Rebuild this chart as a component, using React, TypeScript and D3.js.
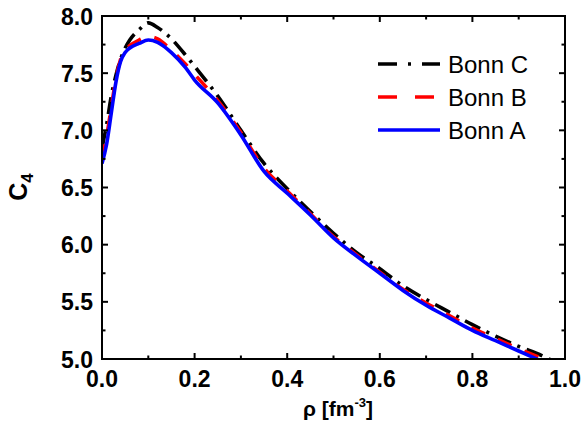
import React from "react";
import * as d3 from "d3";

const rhoA = [0, 0.01, 0.02, 0.03, 0.04, 0.05, 0.06, 0.08, 0.1, 0.12, 0.15, 0.18, 0.2, 0.25, 0.3, 0.35, 0.4, 0.45, 0.5, 0.55, 0.6, 0.65, 0.7, 0.75, 0.8, 0.85, 0.9, 0.95];
const bonnA = [6.71, 6.88, 7.15, 7.42, 7.6, 7.68, 7.72, 7.76, 7.79, 7.77, 7.68, 7.55, 7.44, 7.24, 6.96, 6.64, 6.45, 6.26, 6.06, 5.9, 5.75, 5.6, 5.47, 5.36, 5.25, 5.16, 5.07, 4.98];

const rhoB = [0, 0.01, 0.02, 0.03, 0.04, 0.05, 0.06, 0.08, 0.1, 0.12, 0.15, 0.18, 0.2, 0.25, 0.3, 0.35, 0.4, 0.45, 0.5, 0.55, 0.6, 0.65, 0.7, 0.75, 0.8, 0.85, 0.9, 0.96];
const bonnB = [6.75, 6.95, 7.2, 7.45, 7.62, 7.7, 7.74, 7.79, 7.82, 7.8, 7.7, 7.58, 7.49, 7.26, 6.98, 6.67, 6.47, 6.27, 6.07, 5.91, 5.76, 5.61, 5.49, 5.38, 5.27, 5.18, 5.09, 4.99];

const rhoC = [0, 0.01, 0.02, 0.03, 0.04, 0.05, 0.06, 0.08, 0.1, 0.12, 0.15, 0.18, 0.2, 0.25, 0.3, 0.35, 0.4, 0.45, 0.5, 0.55, 0.6, 0.65, 0.7, 0.75, 0.8, 0.85, 0.9, 0.95, 0.975];
const bonnC = [6.85, 7.05, 7.3, 7.48, 7.62, 7.72, 7.79, 7.88, 7.94, 7.9, 7.8, 7.66, 7.56, 7.3, 7.0, 6.71, 6.49, 6.29, 6.1, 5.93, 5.79, 5.64, 5.52, 5.41, 5.3, 5.2, 5.11, 5.03, 4.98];

const xTicks = [0, 0.2, 0.4, 0.6, 0.8, 1.0];
const xMinor = [0.1, 0.3, 0.5, 0.7, 0.9];
const yTicks = [5.0, 5.5, 6.0, 6.5, 7.0, 7.5, 8.0];
const yMinor = [5.25, 5.75, 6.25, 6.75, 7.25, 7.75];

const legendNames = ["Bonn C", "Bonn B", "Bonn A"];

export default function App() {
  const W = 585, H = 427;
  const L = 102, R = 565, T = 16, B = 359;
  const x = d3.scaleLinear().domain([0, 1]).range([L, R]);
  const y = d3.scaleLinear().domain([5, 8]).range([B, T]);
  const line = d3.line<[number, number]>().x(d => x(d[0])).y(d => y(d[1])).curve(d3.curveMonotoneX);
  const zip = (a: number[], b: number[]) => a.map((v, i) => [v, b[i]] as [number, number]);

  const series = [
    { name: "Bonn C", d: zip(rhoC, bonnC), color: "#000", dash: "17,7,3,7" },
    { name: "Bonn B", d: zip(rhoB, bonnB), color: "#ff0000", dash: "15,14" },
    { name: "Bonn A", d: zip(rhoA, bonnA), color: "#0000ff", dash: "" },
  ];
  const font = "'Liberation Sans', Arial, sans-serif";

  return (
    <svg width={W} height={H} style={{ position: "absolute", left: 0, top: 0 }}>
      <rect width={W} height={H} fill="#fff" />
      <defs>
        <clipPath id="plot">
          <rect x={L} y={T} width={R - L} height={B - T} />
        </clipPath>
      </defs>
      <g clipPath="url(#plot)">
        {series.map(s => (
          <path key={s.name} d={line(s.d) || ""} fill="none" stroke={s.color} strokeWidth={3.6}
            strokeDasharray={s.dash || undefined} strokeLinejoin="round" />
        ))}
      </g>
      <rect x={L} y={T} width={R - L} height={B - T} fill="none" stroke="#000" strokeWidth={2} />
      {xTicks.map(t => (
        <g key={"xt" + t}>
          <line x1={x(t)} x2={x(t)} y1={B} y2={B - 6} stroke="#000" strokeWidth={2} />
          <line x1={x(t)} x2={x(t)} y1={T} y2={T + 6} stroke="#000" strokeWidth={2} />
          <text x={x(t)} y={387} textAnchor="middle" fontFamily={font} fontWeight="bold" fontSize={23}>{t.toFixed(1)}</text>
        </g>
      ))}
      {xMinor.map(t => (
        <g key={"xm" + t}>
          <line x1={x(t)} x2={x(t)} y1={B} y2={B - 3.5} stroke="#000" strokeWidth={2} />
          <line x1={x(t)} x2={x(t)} y1={T} y2={T + 3.5} stroke="#000" strokeWidth={2} />
        </g>
      ))}
      {yTicks.map(t => (
        <g key={"yt" + t}>
          <line x1={L} x2={L + 6} y1={y(t)} y2={y(t)} stroke="#000" strokeWidth={2} />
          <line x1={R} x2={R - 6} y1={y(t)} y2={y(t)} stroke="#000" strokeWidth={2} />
          <text x={L - 9} y={y(t) + 8.5} textAnchor="end" fontFamily={font} fontWeight="bold" fontSize={23}>{t.toFixed(1)}</text>
        </g>
      ))}
      {yMinor.map(t => (
        <g key={"ym" + t}>
          <line x1={L} x2={L + 3.5} y1={y(t)} y2={y(t)} stroke="#000" strokeWidth={2} />
          <line x1={R} x2={R - 3.5} y1={y(t)} y2={y(t)} stroke="#000" strokeWidth={2} />
        </g>
      ))}
      <text x={338} y={416} textAnchor="middle" fontFamily={font} fontWeight="bold" fontSize={21}>
        ρ [fm<tspan dy={-9} fontSize={13}>-3</tspan><tspan dy={9}>]</tspan>
      </text>
      <text transform={`translate(27, 187) rotate(-90)`} textAnchor="middle" fontFamily={font} fontWeight="bold" fontSize={25}>
        C<tspan dy={6} fontSize={17}>4</tspan>
      </text>
      {series.map((s, i) => {
        const ly = 64 + i * 33;
        return (
          <g key={"lg" + s.name}>
            <line x1={378} x2={440} y1={ly} y2={ly} stroke={s.color} strokeWidth={3.6}
              strokeDasharray={s.dash ? (i === 0 ? "19,11,3,11" : "19,18") : undefined} />
            <text x={448} y={ly + 9} fontFamily={font} fontSize={24}>{legendNames[i]}</text>
          </g>
        );
      })}
    </svg>
  );
}
